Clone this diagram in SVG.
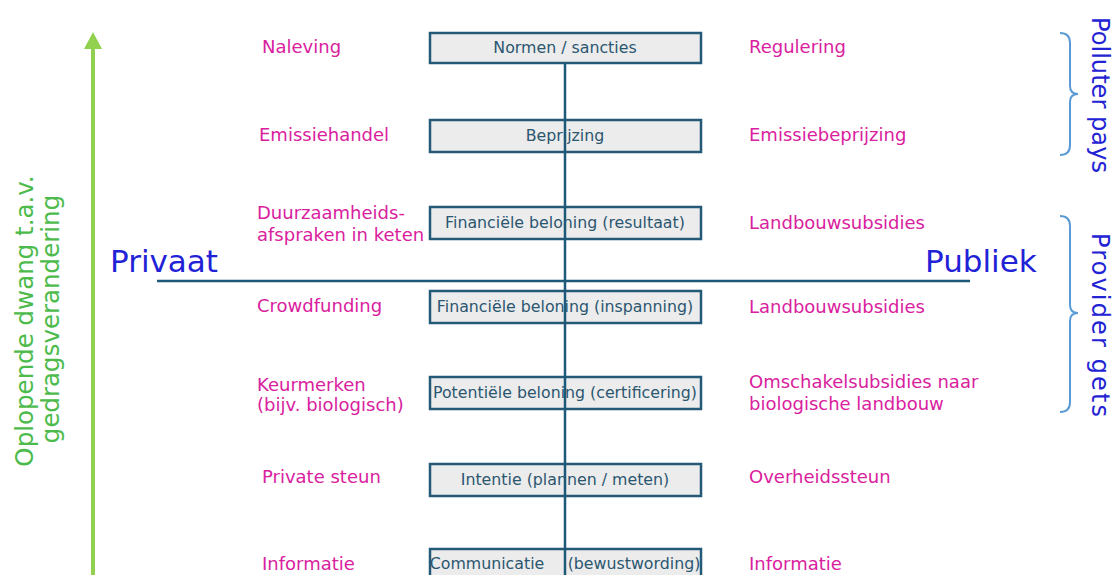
<svg xmlns="http://www.w3.org/2000/svg" width="1114" height="575" viewBox="0 0 1114 575">
<defs>
<style>
.box{fill:#ececec;stroke:#245a78;stroke-width:2.5}
.bt{font-family:"DejaVu Sans",Verdana,sans-serif;font-size:15.8px;fill:#2b5670;text-anchor:middle}
.pk{font-family:"DejaVu Sans",Verdana,sans-serif;font-size:18px;fill:#d9219e}
.ax{font-family:"DejaVu Sans",Verdana,sans-serif;font-size:31px;fill:#1f22d6}
.gr{font-family:"DejaVu Sans",Verdana,sans-serif;font-size:24.5px;fill:#4cbb4c;text-anchor:middle}
.bl{font-family:"DejaVu Sans",Verdana,sans-serif;font-size:24px;fill:#2323d4;text-anchor:middle}
.brace{fill:none;stroke:#5b9bd5;stroke-width:2}
.ln{stroke:#1d5a7a;stroke-width:2.5;fill:none}
</style>
</defs>
<rect width="1114" height="575" fill="#ffffff"/>

<g id="arrow-axis">
<line x1="93" y1="575" x2="93" y2="45" stroke="#92d050" stroke-width="4"/>
<path d="M84,49 L93,32 L102,49 z" fill="#92d050"/>
<text class="gr" transform="translate(33,321) rotate(-90)">Oplopende dwang t.a.v.</text>
<text class="gr" transform="translate(59,319) rotate(-90)">gedragsverandering</text>
</g>

<g id="connectors">
<line class="ln" x1="157" y1="281" x2="970" y2="281"/>
</g>

<g id="axis-labels">
<text class="ax" x="110" y="272">Privaat</text>
<text class="ax" x="925" y="272">Publiek</text>
</g>

<g id="box1"><rect class="box" x="430" y="33" width="271" height="30"/><text class="bt" x="565" y="53">Normen / sancties</text></g>
<g id="box2"><rect class="box" x="430" y="120" width="271" height="32"/><text class="bt" x="565" y="141">Beprijzing</text></g>
<g id="box3"><rect class="box" x="430" y="207" width="271" height="32"/><text class="bt" x="565" y="228">Financiële beloning (resultaat)</text></g>
<g id="box4"><rect class="box" x="430" y="291" width="271" height="32"/><text class="bt" x="565" y="312">Financiële beloning (inspanning)</text></g>
<g id="box5"><rect class="box" x="430" y="377" width="271" height="32"/><text class="bt" x="565" y="398" textLength="264" lengthAdjust="spacingAndGlyphs">Potentiële beloning (certificering)</text></g>
<g id="box6"><rect class="box" x="430" y="464" width="271" height="32"/><text class="bt" x="565" y="485">Intentie (plannen / meten)</text></g>
<g id="box7"><rect class="box" x="430" y="549" width="271" height="32"/><text class="bt" y="569"><tspan x="487">Communicatie</tspan><tspan x="634">(bewustwording)</tspan></text></g>

<g id="connectors-vertical">
<line class="ln" x1="565" y1="63" x2="565" y2="575"/>
</g>

<g id="left-labels">
<text class="pk" x="262" y="53">Naleving</text>
<text class="pk" x="259" y="141">Emissiehandel</text>
<text class="pk" x="257" y="219">Duurzaamheids-</text>
<text class="pk" x="257" y="241">afspraken in keten</text>
<text class="pk" x="257" y="312">Crowdfunding</text>
<text class="pk" x="257" y="391">Keurmerken</text>
<text class="pk" x="257" y="411">(bijv. biologisch)</text>
<text class="pk" x="262" y="483">Private steun</text>
<text class="pk" x="262" y="570">Informatie</text>
</g>

<g id="right-labels">
<text class="pk" x="749" y="53">Regulering</text>
<text class="pk" x="749" y="141">Emissiebeprijzing</text>
<text class="pk" x="749" y="229">Landbouwsubsidies</text>
<text class="pk" x="749" y="313">Landbouwsubsidies</text>
<text class="pk" x="749" y="388">Omschakelsubsidies naar</text>
<text class="pk" x="749" y="410">biologische landbouw</text>
<text class="pk" x="749" y="483">Overheidssteun</text>
<text class="pk" x="749" y="570">Informatie</text>
</g>

<g id="polluter-pays">
<path class="brace" d="M1060,33 Q1070,33 1070,43 L1070,86 Q1070,94 1078,94 Q1070,94 1070,102 L1070,145 Q1070,155 1060,155"/>
<text class="bl" transform="translate(1092,95) rotate(90)" textLength="156" lengthAdjust="spacingAndGlyphs">Polluter pays</text>
</g>

<g id="provider-gets">
<path class="brace" d="M1060,216 Q1070,216 1070,226 L1070,305 Q1070,313 1078,313 Q1070,313 1070,321 L1070,402 Q1070,412 1060,412"/>
<text class="bl" transform="translate(1092,325) rotate(90)" textLength="184" lengthAdjust="spacing">Provider gets</text>
</g>
</svg>
